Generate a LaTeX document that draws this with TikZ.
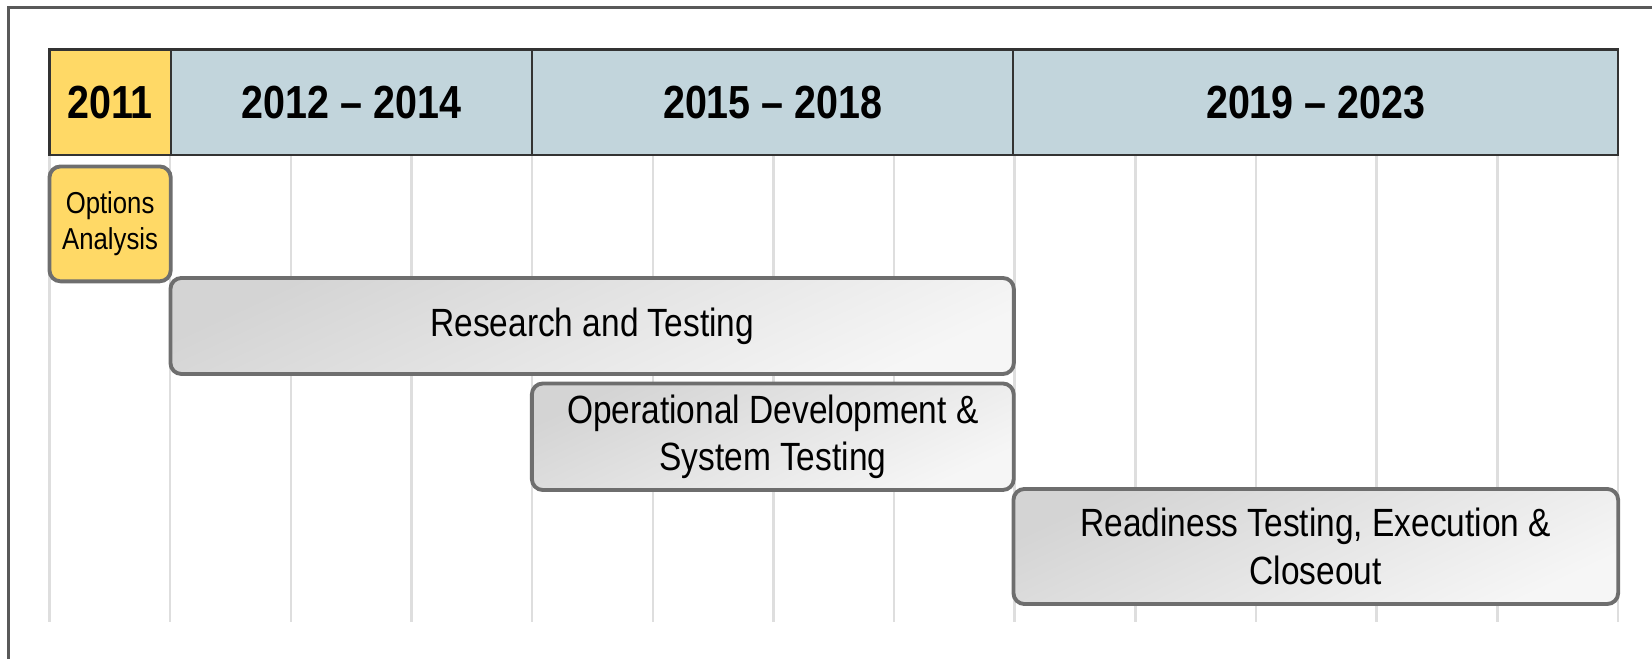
\documentclass[tikz,border=0pt]{standalone}
\usepackage{fontspec}
\setmainfont[FakeStretch=0.85]{Liberation Sans}
\usetikzlibrary{shadings}

\definecolor{hdrblue}{HTML}{C2D5DC}
\definecolor{hdryellow}{HTML}{FFD966}
\definecolor{bardark}{HTML}{D4D4D4}
\definecolor{barlight}{HTML}{F6F6F6}
\definecolor{baredge}{HTML}{6E6E6E}
\definecolor{gridgray}{HTML}{DEDEDE}

\tikzset{
	hdr/.style={draw=black!80, line width=0.6pt, fill=hdrblue, minimum height=1.055cm,
		inner sep=0pt, font=\fontsize{13.2}{15}\selectfont\bfseries},
	hdryear/.style={hdr, fill=hdryellow},
	phasebox/.style={draw=baredge, line width=1.1pt, rounded corners=0.11cm, inner sep=0pt,
		align=center, font=\fontsize{11.2}{13.6}\selectfont},
	phase/.style={phasebox, top color=bardark, bottom color=barlight, shading angle=25},
	phaseyear/.style={phasebox, fill=hdryellow, font=\fontsize{8.6}{10.2}\selectfont},
	gridline/.style={draw=gridgray, line width=0.7pt}
}

\begin{document}
\begin{tikzpicture}[x=0.01cm, y=-0.01cm]
	\useasboundingbox (0,0) rectangle (1652,659);
	
	% Draw outer frame
	\draw[black!65, line width=0.8pt] (8.5,659) |- (1652,7.5);
	
	% Draw vertical grid lines
	\foreach \i in {0,...,13}
	\draw[gridline] ({49.5+120.65*\i},155) -- ({49.5+120.65*\i},622);
	
	% Draw year headers
	\node[hdryear, minimum width=1.212cm] (y2011) at (110.1,102.25) {2011};
	\node[hdr, minimum width=3.613cm] (y2012) at (351.35,102.25) {2012 -- 2014};
	\node[hdr, minimum width=4.816cm] (y2015) at (772.8,102.25) {2015 -- 2018};
	\node[hdr, minimum width=6.044cm] (y2019) at (1315.8,102.25) {2019 -- 2023};
	
	% Draw phases
	\node[phaseyear, minimum width=1.212cm, minimum height=1.148cm] (options)
	at (110.1,223.9) {Options\\Analysis};
	\node[phase, minimum width=8.429cm, minimum height=0.96cm] (research)
	at (592.15,326) {Research and Testing};
	\node[phase, minimum width=4.816cm, minimum height=1.065cm] (operational)
	at (772.8,436.75) {Operational Development \&\\System Testing};
	\node[phase, minimum width=6.044cm, minimum height=1.15cm] (readiness)
	at (1315.8,546.5) {Readiness Testing, Execution \&\\Closeout};
	
\end{tikzpicture}
\end{document}
